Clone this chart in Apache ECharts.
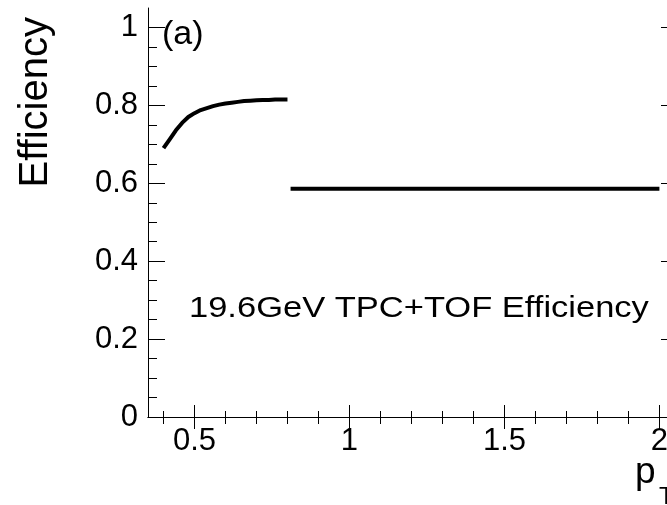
<!DOCTYPE html>
<html>
<head>
<meta charset="utf-8">
<script src="https://cdn.jsdelivr.net/npm/echarts@6/dist/echarts.min.js"></script>
<style>
html,body{margin:0;padding:0;background:#fff;overflow:hidden;width:667px;height:505px;}
#c{width:700px;height:505px;}
</style>
</head>
<body>
<div id="c"></div>
<script>
// ---- data ----
var curveX = [0.40, 0.42, 0.44, 0.46, 0.48, 0.50, 0.52, 0.54, 0.56, 0.58, 0.60, 0.62, 0.64, 0.66, 0.68, 0.70, 0.72, 0.74, 0.76, 0.78, 0.80];
var curveY = [0.690, 0.713, 0.736, 0.755, 0.770, 0.780, 0.788, 0.793, 0.798, 0.802, 0.805, 0.807, 0.809, 0.811, 0.812, 0.813, 0.814, 0.814, 0.815, 0.815, 0.815];
var flatX = [0.81, 1.0, 1.5, 2.0];
var flatY = [0.586, 0.586, 0.586, 0.586];
var xMajor = [0.5, 1, 1.5, 2];
var xMinor = [0.4, 0.6, 0.7, 0.8, 0.9, 1.1, 1.2, 1.3, 1.4, 1.6, 1.7, 1.8, 1.9, 2.0];
var yMajor = [0, 0.2, 0.4, 0.6, 0.8, 1];
var yMinor = [0.05, 0.1, 0.15, 0.25, 0.3, 0.35, 0.45, 0.5, 0.55, 0.65, 0.7, 0.75, 0.85, 0.9, 0.95];
var yTitle = 'Efficiency';
var xTitle = 'p';
var xTitleSub = 'T';
var panelLabel = '(a)';
var noteText = '19.6GeV TPC+TOF Efficiency';

function zip(a, b) { return a.map(function (v, i) { return [v, b[i]]; }); }

var FONT = '"Liberation Sans", Arial, Helvetica, sans-serif';
var X_MIN = 0.35, X_MAX = 2.06, Y_MIN = 0, Y_MAX = 1.05;
var lineStyle = { color: '#000', width: 1 };

function xAxisDef(pos, ticks, len, showLine, showLabel) {
  return {
    type: 'value', position: pos, min: X_MIN, max: X_MAX,
    axisLine: { show: showLine, lineStyle: lineStyle },
    axisTick: { show: true, inside: true, length: len, customValues: ticks, lineStyle: lineStyle },
    axisLabel: showLabel ? { show: true, customValues: ticks, color: '#000', fontSize: 31, fontFamily: FONT, margin: 9 } : { show: false },
    splitLine: { show: false }
  };
}
function yAxisDef(pos, ticks, len, showLine, showLabel) {
  return {
    type: 'value', position: pos, min: Y_MIN, max: Y_MAX,
    axisLine: { show: showLine, lineStyle: lineStyle },
    axisTick: { show: true, inside: true, length: len, customValues: ticks, lineStyle: lineStyle },
    axisLabel: showLabel ? { show: true, customValues: ticks, color: '#000', fontSize: 31, fontFamily: FONT, margin: 10 } : { show: false },
    splitLine: { show: false }
  };
}

var chart = echarts.init(document.getElementById('c'), null, { renderer: 'canvas' });
chart.setOption({
  animation: false,
  backgroundColor: '#fff',
  grid: { left: 148, top: 8, width: 530, height: 409, containLabel: false },
  xAxis: [
    xAxisDef('bottom', xMajor, 12, true, true),
    xAxisDef('bottom', xMinor, 6, false, false),
    xAxisDef('top', xMajor, 12, true, false),
    xAxisDef('top', xMinor, 7, false, false)
  ],
  yAxis: [
    yAxisDef('left', yMajor, 17, true, true),
    yAxisDef('left', yMinor, 9, false, false),
    yAxisDef('right', yMajor, 17, true, false),
    yAxisDef('right', yMinor, 9, false, false)
  ],
  series: [
    { type: 'line', data: zip(curveX, curveY), showSymbol: false, symbol: 'none', smooth: false,
      lineStyle: { color: '#000', width: 4, cap: 'butt', join: 'round' }, xAxisIndex: 0, yAxisIndex: 0 },
    { type: 'line', data: zip(flatX, flatY), showSymbol: false, symbol: 'none',
      lineStyle: { color: '#000', width: 4 }, xAxisIndex: 0, yAxisIndex: 0 }
  ],
  graphic: [
    { type: 'text', x: 16, y: 17, rotation: Math.PI / 2,
      style: { text: yTitle, font: '40px ' + FONT, fill: '#000', align: 'right', verticalAlign: 'top' } },
    { type: 'text', x: 162, y: 18,
      style: { text: panelLabel, font: '34px ' + FONT, fill: '#000', align: 'left', verticalAlign: 'top' } },
    { type: 'text', x: 189, y: 294, scaleX: 1.15,
      style: { text: noteText, font: '30px ' + FONT, fill: '#000', align: 'left', verticalAlign: 'top' } },
    { type: 'text', x: 635, y: 454,
      style: { text: xTitle, font: '37px ' + FONT, fill: '#000', align: 'left', verticalAlign: 'top' } },
    { type: 'text', x: 659, y: 485,
      style: { text: xTitleSub, font: '24px ' + FONT, fill: '#000', align: 'left', verticalAlign: 'top' } }
  ]
});
</script>
</body>
</html>
